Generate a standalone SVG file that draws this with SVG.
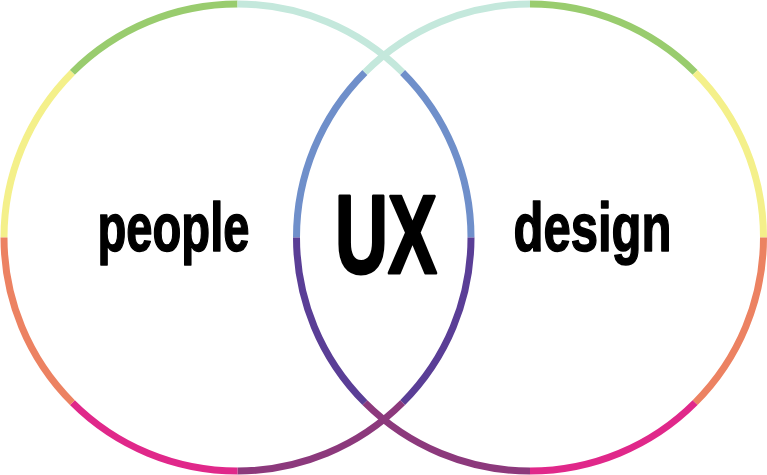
<svg xmlns="http://www.w3.org/2000/svg" width="767" height="475" viewBox="0 0 767 475">
  <style>
    .arc { fill: none; stroke-width: 7; stroke-linecap: butt; }
    .green { stroke: #99cc6e; }
    .mint { stroke: #c4e8dc; }
    .yellow { stroke: #f4f08a; }
    .blue { stroke: #6f8fca; }
    .purple { stroke: #5a3e96; }
    .plum { stroke: #8c397c; }
    .pink { stroke: #e0288a; }
    .orange { stroke: #ec8262; }
    .lbl { font-family: "Liberation Sans", Arial, sans-serif; font-weight: bold; fill: #000; stroke: #000; stroke-linejoin: round; }
  </style>
  <rect width="767" height="475" fill="#ffffff"/>
  <g id="circle-people">
    <path class="arc yellow" d="M4,237.5 A233.5,233.5 0 0 1 72.4,72.4"/>
    <path class="arc green" d="M72.4,72.4 A233.5,233.5 0 0 1 237.5,4"/>
    <path class="arc mint" d="M237.5,4 A233.5,233.5 0 0 1 402.6,72.4"/>
    <path class="arc blue" d="M402.6,72.4 A233.5,233.5 0 0 1 471,237.5"/>
    <path class="arc purple" d="M471,237.5 A233.5,233.5 0 0 1 402.6,402.6"/>
    <path class="arc plum" d="M402.6,402.6 A233.5,233.5 0 0 1 237.5,471"/>
    <path class="arc pink" d="M237.5,471 A233.5,233.5 0 0 1 72.4,402.6"/>
    <path class="arc orange" d="M72.4,402.6 A233.5,233.5 0 0 1 4,237.5"/>
  </g>
  <g id="circle-design">
    <path class="arc blue" d="M296.5,237.5 A233.5,233.5 0 0 1 364.9,72.4"/>
    <path class="arc mint" d="M364.9,72.4 A233.5,233.5 0 0 1 530,4"/>
    <path class="arc green" d="M530,4 A233.5,233.5 0 0 1 695.1,72.4"/>
    <path class="arc yellow" d="M695.1,72.4 A233.5,233.5 0 0 1 763.5,237.5"/>
    <path class="arc orange" d="M763.5,237.5 A233.5,233.5 0 0 1 695.1,402.6"/>
    <path class="arc pink" d="M695.1,402.6 A233.5,233.5 0 0 1 530,471"/>
    <path class="arc plum" d="M530,471 A233.5,233.5 0 0 1 364.9,402.6"/>
    <path class="arc purple" d="M364.9,402.6 A233.5,233.5 0 0 1 296.5,237.5"/>
  </g>
  <g id="label-people">
    <text class="lbl" x="97.5" y="250.5" font-size="69" stroke-width="1.6" textLength="152" lengthAdjust="spacingAndGlyphs">people</text>
  </g>
  <g id="label-ux">
    <text class="lbl" x="335" y="273" font-size="112" stroke-width="3" textLength="102" lengthAdjust="spacingAndGlyphs">UX</text>
  </g>
  <g id="label-design">
    <text class="lbl" x="513.5" y="250.5" font-size="69" stroke-width="1.6" textLength="158" lengthAdjust="spacingAndGlyphs">design</text>
  </g>
</svg>
